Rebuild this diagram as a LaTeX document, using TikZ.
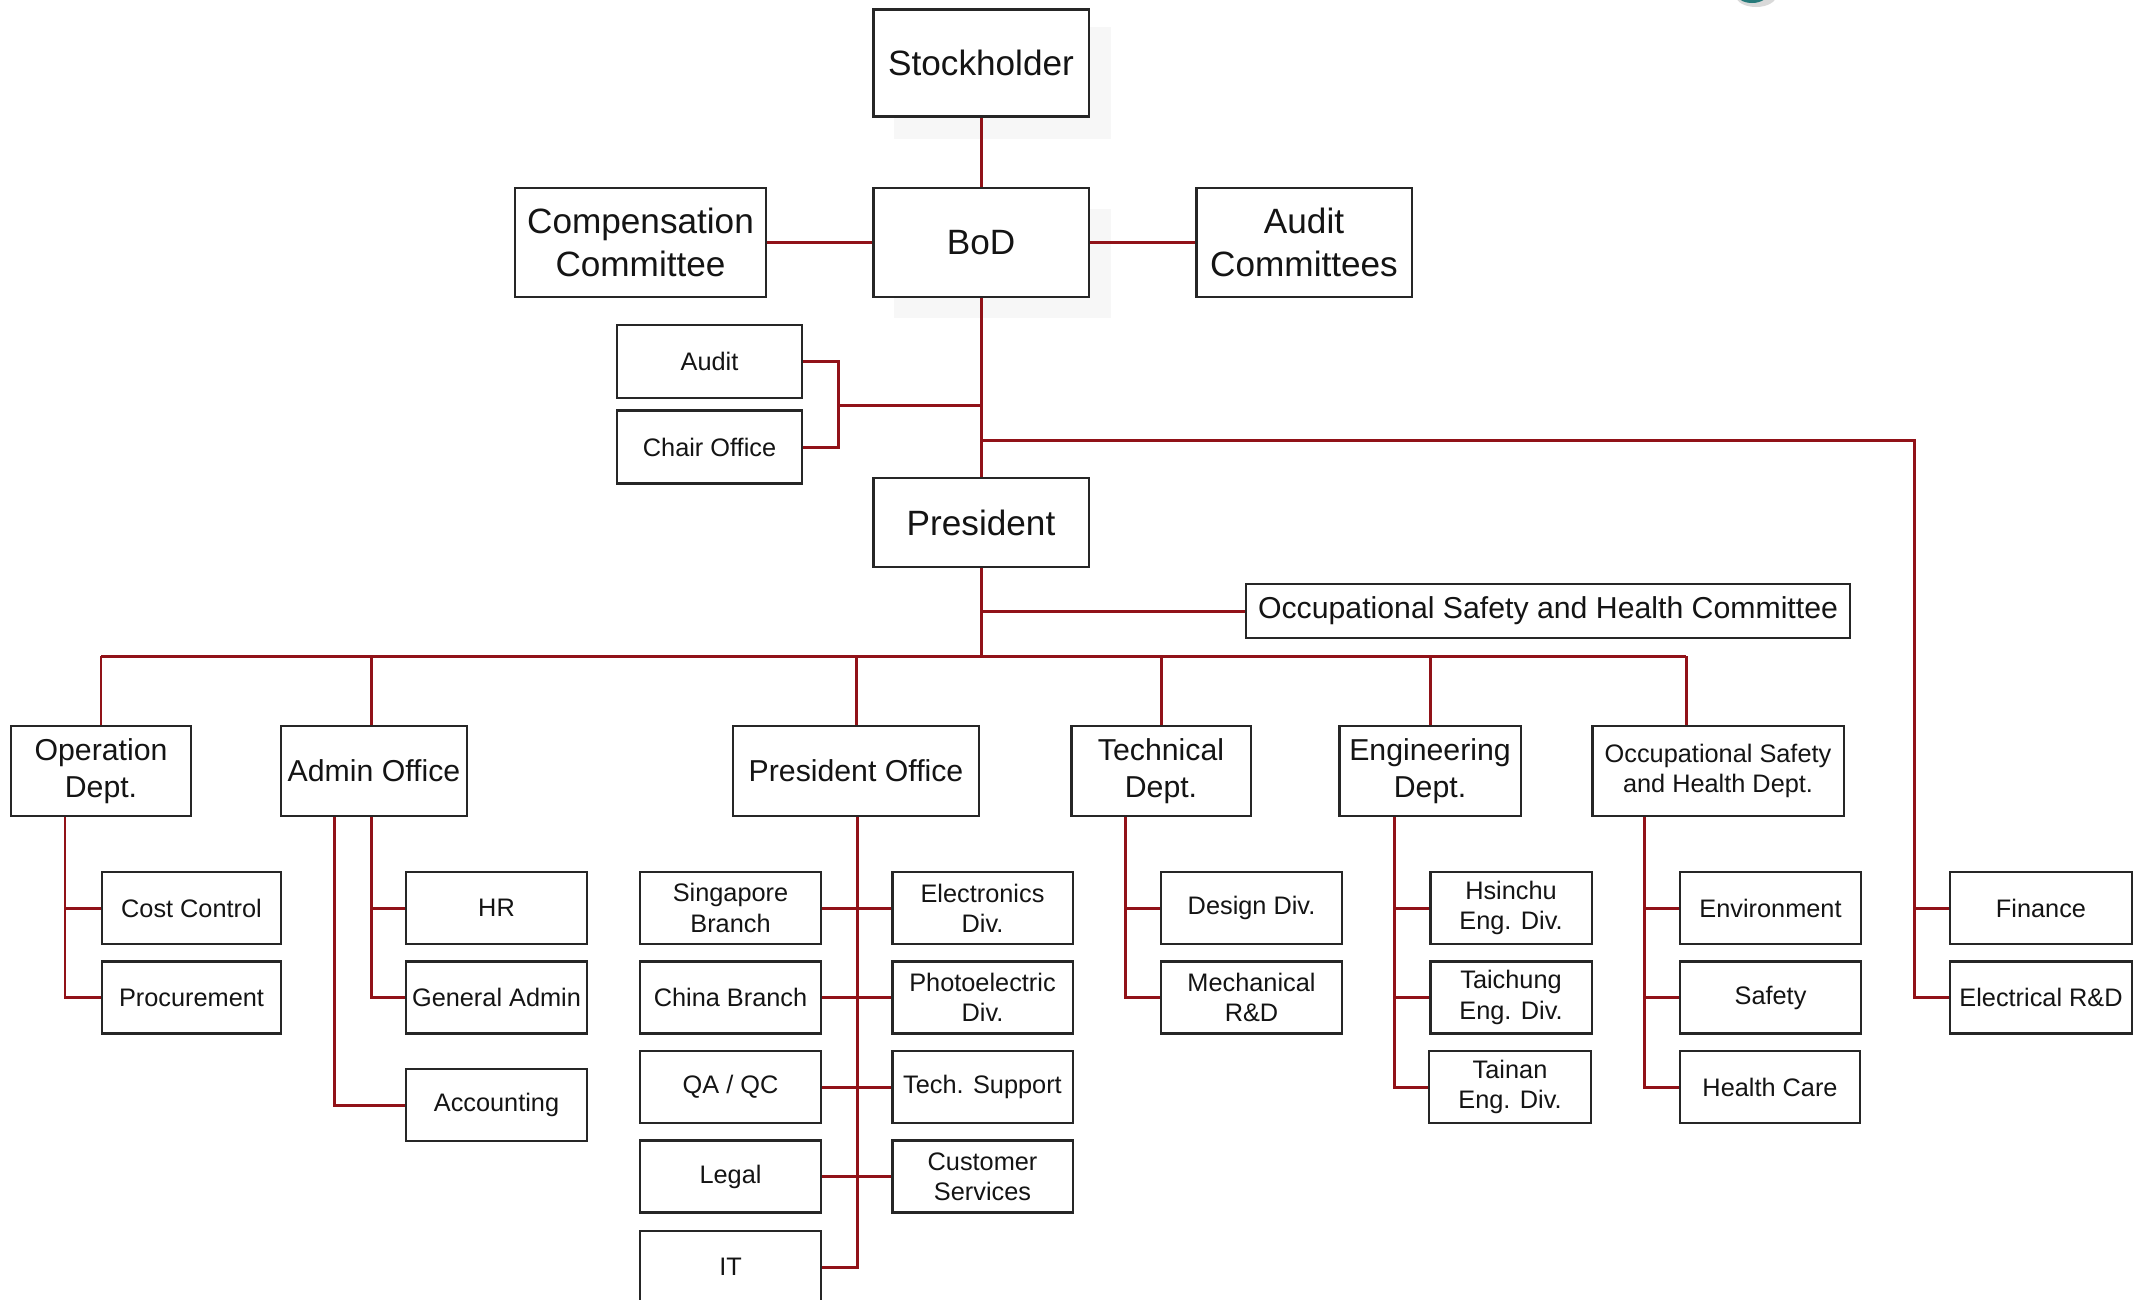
\documentclass[tikz,border=0pt]{standalone}
\usepackage{fontspec}
\setmainfont{Liberation Sans}
\definecolor{linered}{RGB}{145,18,24}
\definecolor{logoteal}{RGB}{38,122,122}
\begin{document}
\begin{tikzpicture}[x=0.01cm,y=-0.01cm,
  box/.style={draw=black!85,line width=0.6pt,fill=white,inner sep=0pt,align=center,text=black!92},
  big/.style={box,font=\fontsize{10}{12.2}\selectfont},
  mid/.style={box,font=\fontsize{8.6}{10.4}\selectfont},
  small/.style={box,font=\fontsize{7.2}{8.6}\selectfont},
  lv3/.style={small,minimum width=1.81cm,minimum height=0.72cm},
  link/.style={draw=linered,line width=0.85pt}]
\useasboundingbox (0,0) rectangle (2137,1299);
% faint shadows and logo fragment
\fill[black!3] (894,27) rectangle (1111,139);
\fill[black!3] (894,209) rectangle (1111,318);
\fill[black!15] (1756,-4) ellipse (20 and 11);
\fill[logoteal] (1752,-7) ellipse (16 and 10);

% top level
\node[big,minimum width=2.15cm,minimum height=1.07cm] (stock) at (981,63) {Stockholder};
\node[big,minimum width=2.15cm,minimum height=1.09cm] (bod) at (981,242.5) {BoD};
\node[big,minimum width=2.51cm,minimum height=1.09cm] (comp) at (640.5,242.5) {Compensation\\Committee};
\node[big,minimum width=2.15cm,minimum height=1.09cm] (auditc) at (1304,242.5) {Audit\\Committees};
\node[small,minimum width=1.85cm,minimum height=0.73cm] (audit) at (709.5,361.5) {Audit};
\node[small,minimum width=1.85cm,minimum height=0.73cm] (chair) at (709.5,447) {Chair Office};
\node[big,minimum width=2.15cm,minimum height=0.89cm] (pres) at (981,522.5) {President};
\node[mid,minimum width=6.04cm,minimum height=0.54cm] (oshc) at (1548,611) {Occupational Safety and Health Committee};

% level 2
\node[mid,minimum width=1.80cm,minimum height=0.90cm] (opd) at (101,771) {Operation\\Dept.};
\node[mid,minimum width=1.865cm,minimum height=0.90cm] (admin) at (374,771) {Admin Office};
\node[mid,minimum width=2.455cm,minimum height=0.90cm] (poff) at (856,771) {President Office};
\node[mid,minimum width=1.79cm,minimum height=0.90cm] (tech) at (1161,771) {Technical\\Dept.};
\node[mid,minimum width=1.81cm,minimum height=0.90cm] (eng) at (1430,771) {Engineering\\Dept.};
\node[small,minimum width=2.51cm,minimum height=0.90cm] (oshd) at (1718,771) {Occupational Safety\\and Health Dept.};

% level 3
\node[lv3,minimum width=1.79cm] (cost) at (191.5,908) {Cost Control};
\node[lv3,minimum width=1.79cm] (proc) at (191.5,997.5) {Procurement};
\node[lv3] (hr) at (496.5,908) {HR};
\node[lv3] (genadm) at (496.5,997.5) {General Admin};
\node[lv3] (acct) at (496.5,1105) {Accounting};
\node[lv3] (sing) at (730.5,908) {Singapore\\Branch};
\node[lv3] (china) at (730.5,997.5) {China Branch};
\node[lv3] (qa) at (730.5,1087) {QA / QC};
\node[lv3] (legal) at (730.5,1176.5) {Legal};
\node[lv3] (it) at (730.5,1267) {IT};
\node[lv3,minimum width=1.80cm] (elecd) at (982.5,908) {Electronics\\Div.};
\node[lv3,minimum width=1.80cm] (photo) at (982.5,997.5) {Photoelectric\\Div.};
\node[lv3,minimum width=1.80cm] (tsup) at (982.5,1087) {Tech. Support};
\node[lv3,minimum width=1.80cm] (cust) at (982.5,1176.5) {Customer\\Services};
\node[lv3] (design) at (1251.5,908) {Design Div.};
\node[lv3] (mech) at (1251.5,997.5) {Mechanical\\R\&D};
\node[lv3,minimum width=1.61cm] (hsin) at (1511,908) {Hsinchu\\Eng. Div.};
\node[lv3,minimum width=1.61cm] (taic) at (1511,997.5) {Taichung\\Eng. Div.};
\node[lv3,minimum width=1.62cm] (tain) at (1510,1087) {Tainan\\Eng. Div.};
\node[lv3] (env) at (1770.5,908) {Environment};
\node[lv3] (safe) at (1770.5,997.5) {Safety};
\node[lv3,minimum width=1.80cm] (health) at (1770,1087) {Health Care};
\node[lv3,minimum width=1.82cm] (finance) at (2041,908) {Finance};
\node[lv3,minimum width=1.82cm] (elec) at (2041,997.5) {Electrical R\&D};

% coordinates
\coordinate (brk) at (838,405);
\coordinate (fin) at (1914,440);
\coordinate (busL) at (101,656);
\coordinate (adrop) at (371,656);
\coordinate (oshdrop) at (1686,656);
\coordinate (ob) at (65,0);
\coordinate (ab1) at (371,0);
\coordinate (ab2) at (334,0);
\coordinate (pb) at (857,0);
\coordinate (tb) at (1125,0);
\coordinate (eb) at (1394,0);
\coordinate (sb) at (1644,0);

% connectors top
\draw[link] (stock.south) -- (bod.north);
\draw[link] (comp.east) -- (bod.west);
\draw[link] (bod.east) -- (auditc.west);
\draw[link] (bod.south) -- (pres.north);
\draw[link] (audit.east) -| (brk);
\draw[link] (chair.east) -| (brk);
\draw[link] (brk) -- (brk -| bod.south);
\draw[link] (fin -| bod.south) -- (fin) |- (elec.west);
\draw[link] (fin |- finance.west) -- (finance.west);
\draw[link] (pres.south |- oshc.west) -- (oshc.west);
\draw[link] (pres.south) -- (pres.south |- busL);
\draw[link] (busL) -- (oshdrop);
% drops
\draw[link] (busL) -- (busL |- opd.north);
\draw[link] (adrop) -- (adrop |- admin.north);
\draw[link] (poff.north |- busL) -- (poff.north);
\draw[link] (tech.north |- busL) -- (tech.north);
\draw[link] (eng.north |- busL) -- (eng.north);
\draw[link] (oshdrop) -- (oshdrop |- oshd.north);
% branches
\draw[link] (ob |- opd.south) |- (proc.west);
\draw[link] (ob |- cost.west) -- (cost.west);
\draw[link] (ab1 |- admin.south) |- (genadm.west);
\draw[link] (ab1 |- hr.west) -- (hr.west);
\draw[link] (ab2 |- admin.south) |- (acct.west);
\draw[link] (pb |- poff.south) |- (it.east);
\draw[link] (sing.east) -- (elecd.west);
\draw[link] (china.east) -- (photo.west);
\draw[link] (qa.east) -- (tsup.west);
\draw[link] (legal.east) -- (cust.west);
\draw[link] (tb |- tech.south) |- (mech.west);
\draw[link] (tb |- design.west) -- (design.west);
\draw[link] (eb |- eng.south) |- (tain.west);
\draw[link] (eb |- hsin.west) -- (hsin.west);
\draw[link] (eb |- taic.west) -- (taic.west);
\draw[link] (sb |- oshd.south) |- (health.west);
\draw[link] (sb |- env.west) -- (env.west);
\draw[link] (sb |- safe.west) -- (safe.west);
\end{tikzpicture}
\end{document}
